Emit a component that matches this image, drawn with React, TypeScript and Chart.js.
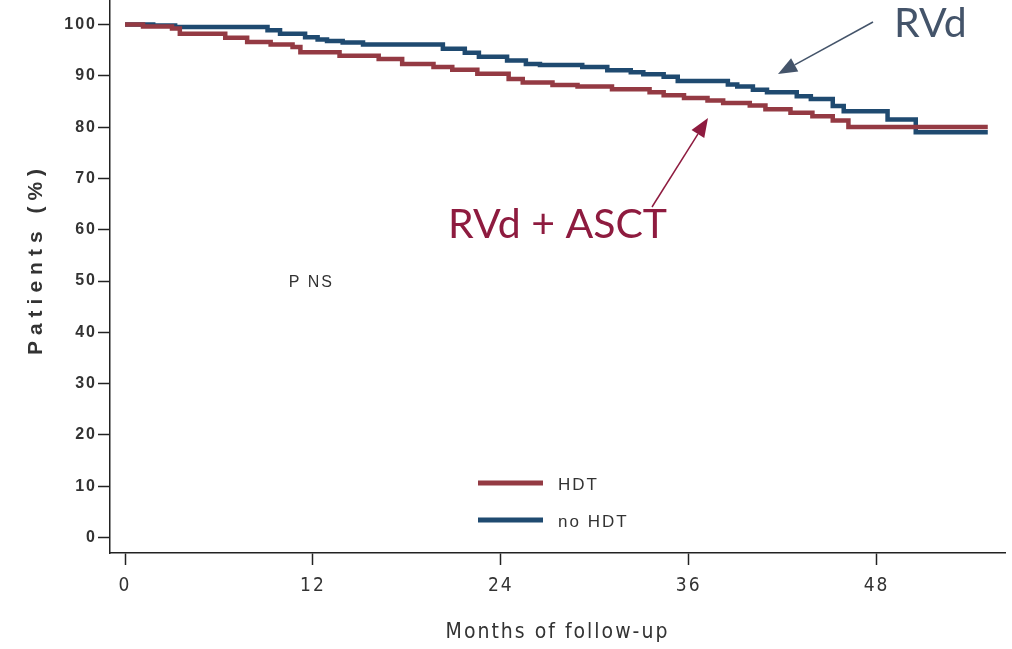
import React, { useEffect, useRef } from "react";
import { Chart, registerables } from "chart.js";

Chart.register(...registerables);

// Kaplan-Meier steps (months, % patients)
const hdtMonths = [0, 1.15, 3.0, 3.5, 6.4, 7.8, 9.3, 10.7, 11.2, 13.7, 16.2, 17.7, 19.7, 20.9, 22.5, 24.5, 25.4, 27.3, 28.9, 31.1, 33.5, 34.4, 35.7, 37.2, 38.2, 39.9, 40.9, 42.5, 43.9, 45.2, 46.2, 55.1];
const hdtSurvival = [100, 99.6, 99.2, 98.2, 97.4, 96.6, 96.1, 95.6, 94.6, 93.9, 93.3, 92.3, 91.7, 91.2, 90.4, 89.4, 88.7, 88.2, 87.9, 87.4, 86.8, 86.2, 85.7, 85.2, 84.7, 84.2, 83.5, 82.8, 82.1, 81.3, 80.0, 80.0];

const noHdtMonths = [0, 1.8, 3.2, 9.1, 9.9, 11.5, 12.3, 12.9, 13.9, 15.2, 20.3, 21.7, 22.6, 24.4, 25.6, 26.5, 29.2, 30.8, 32.3, 33.1, 34.4, 35.3, 38.5, 39.1, 40.1, 41.0, 42.9, 43.8, 45.2, 45.9, 48.7, 50.5, 55.1];
const noHdtSurvival = [100, 99.8, 99.5, 98.9, 98.2, 97.5, 97.1, 96.8, 96.5, 96.1, 95.3, 94.5, 93.7, 93.0, 92.3, 92.1, 91.7, 91.1, 90.7, 90.3, 89.8, 89.0, 88.3, 87.9, 87.3, 86.8, 86.0, 85.5, 84.1, 83.1, 81.5, 79.0, 79.0];

const xTickValues = [0, 12, 24, 36, 48];
const yTickValues = [0, 10, 20, 30, 40, 50, 60, 70, 80, 90, 100];

const seriesLabels = ["HDT", "no HDT"];
const xTitle = "Months of follow-up";
const yTitle = "Patients (%)";
const pValueText = "P NS";
const armLabelTop = "RVd";
const armLabelBottom = "RVd + ASCT";

const RED = "#943A43";
const BLUE = "#1F4A70";
const SLATE = "#44546A";
const BURGUNDY = "#8E1B3F";

function drawArrow(ctx: CanvasRenderingContext2D, x1: number, y1: number, x2: number, y2: number, color: string, headLen: number, headW: number) {
  const ang = Math.atan2(y2 - y1, x2 - x1);
  const bx = x2 - headLen * Math.cos(ang);
  const by = y2 - headLen * Math.sin(ang);
  ctx.save();
  ctx.strokeStyle = color;
  ctx.fillStyle = color;
  ctx.lineWidth = 1.5;
  ctx.beginPath();
  ctx.moveTo(x1, y1);
  ctx.lineTo(bx, by);
  ctx.stroke();
  ctx.beginPath();
  ctx.moveTo(x2, y2);
  ctx.lineTo(bx + (headW / 2) * Math.sin(ang), by - (headW / 2) * Math.cos(ang));
  ctx.lineTo(bx - (headW / 2) * Math.sin(ang), by + (headW / 2) * Math.cos(ang));
  ctx.closePath();
  ctx.fill();
  ctx.restore();
}

const decorPlugin = {
  id: "decor",
  beforeDraw(chart: any) {
    (chart.ctx as any).letterSpacing = "2px";
  },
  afterDraw(chart: any) {
    const ctx: CanvasRenderingContext2D = chart.ctx;
    const { chartArea } = chart;
    const xs = chart.scales.x;
    const ys = chart.scales.y;
    ctx.save();
    (ctx as any).letterSpacing = "2px";
    // x title
    ctx.fillStyle = "#333";
    ctx.textAlign = "center";
    ctx.textBaseline = "middle";
    ctx.font = "21px 'Liberation Sans Narrow', 'DejaVu Sans Condensed', sans-serif";
    ctx.fillText(xTitle, (chartArea.left + chartArea.right) / 2, 633);
    // y title
    ctx.save();
    (ctx as any).letterSpacing = "6px";
    ctx.translate(36, 259);
    ctx.rotate(-Math.PI / 2);
    ctx.font = "bold 21px 'Liberation Sans', sans-serif";
    ctx.fillText(yTitle, 0, 0);
    ctx.restore();
    // P value
    ctx.font = "16px 'Liberation Sans', sans-serif";
    ctx.fillText(pValueText, xs.getPixelForValue(11.9), ys.getPixelForValue(49.6));
    // legend
    const legendItems = [
      { color: RED, label: seriesLabels[0], y: 483 },
      { color: BLUE, label: seriesLabels[1], y: 520 },
    ];
    ctx.textAlign = "left";
    legendItems.forEach((it) => {
      ctx.strokeStyle = it.color;
      ctx.lineWidth = 5;
      ctx.beginPath();
      ctx.moveTo(478, it.y);
      ctx.lineTo(543, it.y);
      ctx.stroke();
      ctx.fillStyle = "#333";
      ctx.font = "17px 'Liberation Sans', sans-serif";
      ctx.fillText(it.label, 558, it.y + 2);
    });
    (ctx as any).letterSpacing = "0px";
    // arm annotations
    ctx.textBaseline = "alphabetic";
    ctx.font = "41px Lato, 'Open Sans', sans-serif";
    ctx.fillStyle = SLATE;
    ctx.textAlign = "left";
    ctx.fillText(armLabelTop, 894, 37);
    drawArrow(ctx, 873, 22, 778, 74, SLATE, 19, 15);
    ctx.fillStyle = BURGUNDY;
    ctx.fillText(armLabelBottom, 448, 238);
    drawArrow(ctx, 652, 207, 708, 118, BURGUNDY, 19, 15);
    ctx.restore();
    (ctx as any).letterSpacing = "0px";
  },
};

export default function App() {
  const ref = useRef<HTMLCanvasElement | null>(null);
  useEffect(() => {
    if (!ref.current) return;
    const chart = new Chart(ref.current, {
      type: "line",
      data: {
        datasets: [
          {
            label: seriesLabels[0],
            data: hdtMonths.map((m, i) => ({ x: m, y: hdtSurvival[i] })),
            borderColor: RED,
            borderWidth: 4.5,
            pointRadius: 0,
            stepped: true,
            fill: false,
          },
          {
            label: seriesLabels[1],
            data: noHdtMonths.map((m, i) => ({ x: m, y: noHdtSurvival[i] })),
            borderColor: BLUE,
            borderWidth: 4.5,
            pointRadius: 0,
            stepped: true,
            fill: false,
          },
        ],
      },
      options: {
        animation: false,
        responsive: false,
        layout: { padding: { left: 0, top: 0, right: 7, bottom: 0 } },
        plugins: { legend: { display: false }, tooltip: { enabled: false } },
        scales: {
          x: {
            type: "linear",
            min: -0.96,
            max: 56.2,
            afterBuildTicks: (s: any) => {
              s.ticks = xTickValues.map((v) => ({ value: v }));
            },
            afterFit: (s: any) => {
              s.height = 96;
              s.paddingLeft = 0;
              s.paddingRight = 0;
            },
            grid: { display: true, drawOnChartArea: false, drawTicks: true, tickLength: 12, tickColor: "#222", tickWidth: 1.5 },
            border: { display: true, color: "#222", width: 1.5 },
            ticks: {
              padding: 10,
              color: "#333",
              maxRotation: 0,
              font: { family: "'Liberation Sans Narrow', 'DejaVu Sans Condensed', sans-serif", size: 19 },
            },
          },
          y: {
            type: "linear",
            min: -3.02,
            max: 104.78,
            afterBuildTicks: (s: any) => {
              s.ticks = yTickValues.map((v) => ({ value: v }));
            },
            afterFit: (s: any) => {
              s.width = 110;
              s.paddingTop = 0;
              s.paddingBottom = 0;
            },
            grid: { display: true, drawOnChartArea: false, drawTicks: true, tickLength: 12, tickColor: "#222", tickWidth: 1.5 },
            border: { display: true, color: "#222", width: 1.5 },
            ticks: {
              padding: 1,
              color: "#333",
              font: { family: "'Liberation Sans', sans-serif", size: 16, weight: "bold" },
            },
          },
        },
      },
      plugins: [decorPlugin],
    });
    return () => chart.destroy();
  }, []);
  return (
    <div style={{ position: "absolute", left: 0, top: 0, width: 1012, height: 649, background: "#fff" }}>
      <canvas ref={ref} width={1012} height={649} />
    </div>
  );
}
